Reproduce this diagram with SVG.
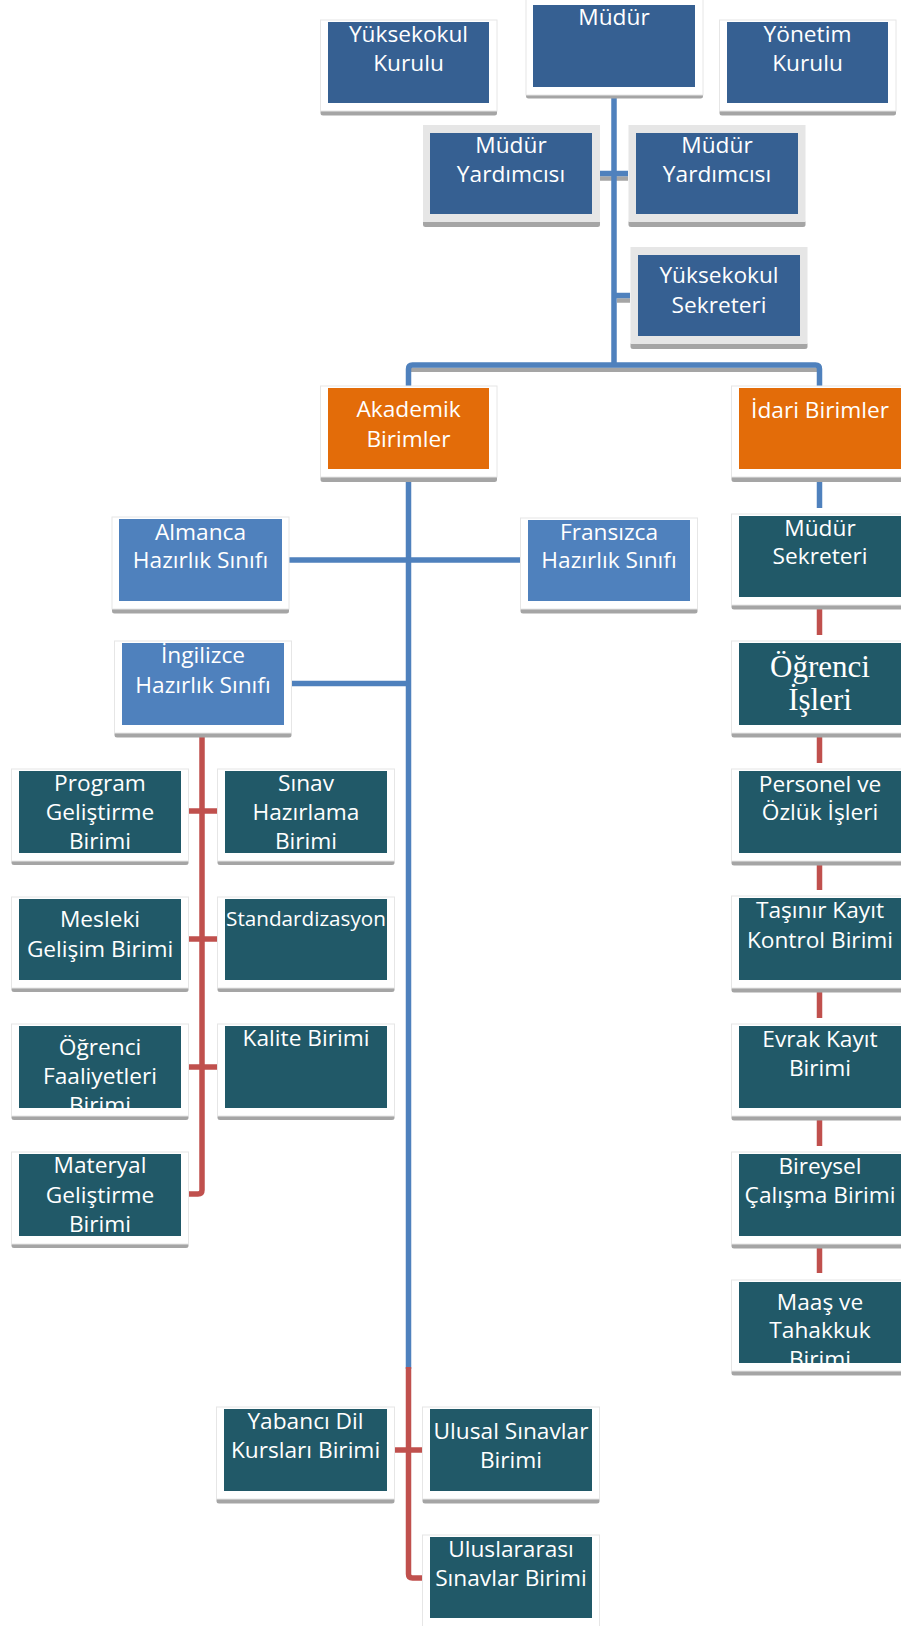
<svg xmlns="http://www.w3.org/2000/svg" width="901" height="1626" viewBox="0 0 901 1626">
<style>
.t{font-family:"Open Sans","Liberation Sans",sans-serif;font-size:22.7px;fill:#ffffff;text-anchor:middle}
.sf{font-family:"Liberation Serif","Times New Roman",serif;font-size:31px}
.fw{fill:#ffffff;stroke:#e6e6e6;stroke-width:1}
.fg{fill:#e6e6e6}
.sh{fill:#a5a5a5}
.db{fill:#366092}
.or{fill:#e36c09}
.lb{fill:#4f81bd}
.tl{fill:#215968}
.cb{stroke:#4f81bd;stroke-width:5.5;fill:none}
.cr{stroke:#c0504d;stroke-width:5.5;fill:none}
.cs{stroke:#a5a5a5;stroke-width:4.5;fill:none}
</style>
<defs>
<clipPath id="clip23"><rect x="19" y="1026" width="162" height="82"/></clipPath>
<clipPath id="clip18"><rect x="739" y="1282" width="162" height="81"/></clipPath>
</defs>
<rect x="0" y="0" width="901" height="1626" fill="#ffffff"/>

<g id="connectors">
<path class="cs" d="M600,178.5H628"/>
<path class="cs" d="M617,300.5H630"/>
<path class="cs" d="M411,369.8H817"/>
<path class="cb" d="M614,96V365"/>
<path class="cb" d="M600,173.5H628"/>
<path class="cb" d="M614,295.5H630"/>
<path class="cb" d="M408.5,386V369Q408.5,365 412.5,365H815.5Q819.5,365 819.5,369V386"/>
<path class="cb" d="M819.5,478V508"/>
<path class="cb" d="M408.5,478V1369"/>
<path class="cb" d="M289,560H520"/>
<path class="cb" d="M292,683.5H408.5"/>
<path class="cr" d="M202,733V1190Q202,1194 198,1194H189"/>
<path class="cr" d="M189,811H217M189,939H217M189,1067H217"/>
<path class="cr" d="M408.5,1367V1574Q408.5,1578 412.5,1578H422"/>
<path class="cr" d="M394,1450H422"/>
<path class="cr" d="M819.5,605V635M819.5,733V763M819.5,861V890M819.5,988V1018M819.5,1117V1146M819.5,1243V1273"/>
</g>

<g id="n-yuksekokul-kurulu">
<rect class="sh" x="320.5" y="109" width="176.5" height="6.5" rx="2.5"/>
<rect class="fw" x="320.5" y="20" width="176.5" height="91"/>
<rect class="db" x="328" y="22" width="161" height="81"/>
<text class="t" x="408.5" y="42">Yüksekokul</text>
<text class="t" x="408.5" y="71">Kurulu</text>
</g>

<g id="n-mudur">
<rect class="sh" x="526" y="93" width="177" height="5.5" rx="2.5"/>
<rect class="fw" x="526" y="-1" width="177" height="96"/>
<rect class="db" x="533" y="5" width="162" height="82"/>
<text class="t" x="614" y="25">Müdür</text>
</g>

<g id="n-yonetim-kurulu">
<rect class="sh" x="719.5" y="109" width="176.5" height="6.5" rx="2.5"/>
<rect class="fw" x="719.5" y="20" width="176.5" height="91"/>
<rect class="db" x="727" y="22" width="161" height="81"/>
<text class="t" x="807.5" y="42">Yönetim</text>
<text class="t" x="807.5" y="71">Kurulu</text>
</g>

<g id="n-mudur-yrd-1">
<rect class="sh" x="423" y="220" width="177" height="7" rx="2.5"/>
<rect class="fg" x="423" y="125" width="177" height="97"/>
<rect class="db" x="430" y="133" width="162" height="81"/>
<text class="t" x="511" y="153">Müdür</text>
<text class="t" x="511" y="182">Yardımcısı</text>
</g>

<g id="n-mudur-yrd-2">
<rect class="sh" x="628.5" y="220" width="177" height="7" rx="2.5"/>
<rect class="fg" x="628.5" y="125" width="177" height="97"/>
<rect class="db" x="636" y="133" width="162" height="81"/>
<text class="t" x="717" y="153">Müdür</text>
<text class="t" x="717" y="182">Yardımcısı</text>
</g>

<g id="n-yuksekokul-sekreteri">
<rect class="sh" x="630.5" y="342" width="177" height="7" rx="2.5"/>
<rect class="fg" x="630.5" y="247" width="177" height="97"/>
<rect class="db" x="638" y="255" width="162" height="81"/>
<text class="t" x="719" y="283">Yüksekokul</text>
<text class="t" x="719" y="313">Sekreteri</text>
</g>

<g id="n-akademik">
<rect class="sh" x="320.5" y="475" width="176.5" height="7" rx="2.5"/>
<rect class="fw" x="320.5" y="386" width="176.5" height="91"/>
<rect class="or" x="328" y="388" width="161" height="81"/>
<text class="t" x="408.5" y="417">Akademik</text>
<text class="t" x="408.5" y="447">Birimler</text>
</g>

<g id="n-idari">
<rect class="sh" x="731.5" y="475" width="180" height="7" rx="2.5"/>
<rect class="fw" x="731.5" y="386" width="180" height="91"/>
<rect class="or" x="739" y="388" width="162" height="81"/>
<text class="t" x="820" y="418">İdari Birimler</text>
</g>

<g id="n-almanca">
<rect class="sh" x="112" y="607" width="177" height="6.5" rx="2.5"/>
<rect class="fw" x="112" y="517" width="177" height="92"/>
<rect class="lb" x="119" y="519" width="163" height="82"/>
<text class="t" x="200.5" y="540">Almanca</text>
<text class="t" x="200.5" y="568">Hazırlık Sınıfı</text>
</g>

<g id="n-fransizca">
<rect class="sh" x="520.5" y="607" width="177" height="6.5" rx="2.5"/>
<rect class="fw" x="520.5" y="518" width="177" height="91"/>
<rect class="lb" x="528" y="520" width="162" height="81"/>
<text class="t" x="609" y="540">Fransızca</text>
<text class="t" x="609" y="568">Hazırlık Sınıfı</text>
</g>

<g id="n-ingilizce">
<rect class="sh" x="114.5" y="731" width="177" height="6.5" rx="2.5"/>
<rect class="fw" x="114.5" y="641" width="177" height="92"/>
<rect class="lb" x="122" y="643" width="162" height="82"/>
<text class="t" x="203" y="663">İngilizce</text>
<text class="t" x="203" y="693">Hazırlık Sınıfı</text>
</g>

<g id="n-mudur-sekreteri">
<rect class="sh" x="731.5" y="603" width="180" height="6.5" rx="2.5"/>
<rect class="fw" x="731.5" y="514" width="180" height="91"/>
<rect class="tl" x="739" y="516" width="162" height="81"/>
<text class="t" x="820" y="536">Müdür</text>
<text class="t" x="820" y="564">Sekreteri</text>
</g>

<g id="n-ogrenci-isleri">
<rect class="sh" x="731.5" y="731" width="180" height="6.5" rx="2.5"/>
<rect class="fw" x="731.5" y="641" width="180" height="92"/>
<rect class="tl" x="739" y="643" width="162" height="82"/>
<text class="t sf" x="820" y="677">Öğrenci</text>
<text class="t sf" x="820" y="710">İşleri</text>
</g>

<g id="n-personel">
<rect class="sh" x="731.5" y="859" width="180" height="6.5" rx="2.5"/>
<rect class="fw" x="731.5" y="769" width="180" height="92"/>
<rect class="tl" x="739" y="771" width="162" height="82"/>
<text class="t" x="820" y="792">Personel ve</text>
<text class="t" x="820" y="820">Özlük İşleri</text>
</g>

<g id="n-tasinir">
<rect class="sh" x="731.5" y="986" width="180" height="6.5" rx="2.5"/>
<rect class="fw" x="731.5" y="896" width="180" height="92"/>
<rect class="tl" x="739" y="898" width="162" height="82"/>
<text class="t" x="820" y="918">Taşınır Kayıt</text>
<text class="t" x="820" y="948">Kontrol Birimi</text>
</g>

<g id="n-evrak">
<rect class="sh" x="731.5" y="1114" width="180" height="6.5" rx="2.5"/>
<rect class="fw" x="731.5" y="1024" width="180" height="92"/>
<rect class="tl" x="739" y="1026" width="162" height="82"/>
<text class="t" x="820" y="1047">Evrak Kayıt</text>
<text class="t" x="820" y="1076">Birimi</text>
</g>

<g id="n-bireysel">
<rect class="sh" x="731.5" y="1242" width="180" height="6.5" rx="2.5"/>
<rect class="fw" x="731.5" y="1152" width="180" height="92"/>
<rect class="tl" x="739" y="1154" width="162" height="82"/>
<text class="t" x="820" y="1174">Bireysel</text>
<text class="t" x="820" y="1203">Çalışma Birimi</text>
</g>

<g id="n-maas">
<rect class="sh" x="731.5" y="1369" width="180" height="6.5" rx="2.5"/>
<rect class="fw" x="731.5" y="1280" width="180" height="91"/>
<rect class="tl" x="739" y="1282" width="162" height="81"/>
<g clip-path="url(#clip18)">
<text class="t" x="820" y="1310">Maaş ve</text>
<text class="t" x="820" y="1338">Tahakkuk</text>
<text class="t" x="820" y="1367">Birimi</text>
</g>
</g>

<g id="n-program">
<rect class="sh" x="11.5" y="859" width="177" height="6" rx="2.5"/>
<rect class="fw" x="11.5" y="769" width="177" height="92"/>
<rect class="tl" x="19" y="771" width="162" height="82"/>
<text class="t" x="100" y="791">Program</text>
<text class="t" x="100" y="820">Geliştirme</text>
<text class="t" x="100" y="849">Birimi</text>
</g>

<g id="n-sinav">
<rect class="sh" x="217.5" y="859" width="177" height="6" rx="2.5"/>
<rect class="fw" x="217.5" y="769" width="177" height="92"/>
<rect class="tl" x="225" y="771" width="162" height="82"/>
<text class="t" x="306" y="791">Sınav</text>
<text class="t" x="306" y="820">Hazırlama</text>
<text class="t" x="306" y="849">Birimi</text>
</g>

<g id="n-mesleki">
<rect class="sh" x="11.5" y="986" width="177" height="6" rx="2.5"/>
<rect class="fw" x="11.5" y="897" width="177" height="91"/>
<rect class="tl" x="19" y="899" width="162" height="81"/>
<text class="t" x="100" y="927">Mesleki</text>
<text class="t" x="100" y="957">Gelişim Birimi</text>
</g>

<g id="n-standardizasyon">
<rect class="sh" x="217.5" y="986" width="177" height="6" rx="2.5"/>
<rect class="fw" x="217.5" y="897" width="177" height="91"/>
<rect class="tl" x="225" y="899" width="162" height="81"/>
<text class="t" x="306" y="926" style="font-size:20.7px">Standardizasyon</text>
</g>

<g id="n-ogrenci-faaliyetleri">
<rect class="sh" x="11.5" y="1114" width="177" height="6" rx="2.5"/>
<rect class="fw" x="11.5" y="1024" width="177" height="92"/>
<rect class="tl" x="19" y="1026" width="162" height="82"/>
<g clip-path="url(#clip23)">
<text class="t" x="100" y="1055">Öğrenci</text>
<text class="t" x="100" y="1084">Faaliyetleri</text>
<text class="t" x="100" y="1113">Birimi</text>
</g>
</g>

<g id="n-kalite">
<rect class="sh" x="217.5" y="1114" width="177" height="6" rx="2.5"/>
<rect class="fw" x="217.5" y="1024" width="177" height="92"/>
<rect class="tl" x="225" y="1026" width="162" height="82"/>
<text class="t" x="306" y="1046">Kalite Birimi</text>
</g>

<g id="n-materyal">
<rect class="sh" x="11.5" y="1242" width="177" height="6" rx="2.5"/>
<rect class="fw" x="11.5" y="1152" width="177" height="92"/>
<rect class="tl" x="19" y="1154" width="162" height="82"/>
<text class="t" x="100" y="1173">Materyal</text>
<text class="t" x="100" y="1203">Geliştirme</text>
<text class="t" x="100" y="1232">Birimi</text>
</g>

<g id="n-yabanci-dil">
<rect class="sh" x="216.5" y="1497" width="178" height="6.5" rx="2.5"/>
<rect class="fw" x="216.5" y="1407" width="178" height="92"/>
<rect class="tl" x="224" y="1409" width="163" height="82"/>
<text class="t" x="305.5" y="1429">Yabancı Dil</text>
<text class="t" x="305.5" y="1458">Kursları Birimi</text>
</g>

<g id="n-ulusal">
<rect class="sh" x="422.5" y="1497" width="177" height="6.5" rx="2.5"/>
<rect class="fw" x="422.5" y="1407" width="177" height="92"/>
<rect class="tl" x="430" y="1409" width="162" height="82"/>
<text class="t" x="511" y="1439">Ulusal Sınavlar</text>
<text class="t" x="511" y="1468">Birimi</text>
</g>

<g id="n-uluslararasi">
<rect class="fw" x="422.5" y="1535" width="177" height="95"/>
<rect class="tl" x="430" y="1537" width="162" height="81"/>
<text class="t" x="511" y="1557">Uluslararası</text>
<text class="t" x="511" y="1586">Sınavlar Birimi</text>
</g>
</svg>
